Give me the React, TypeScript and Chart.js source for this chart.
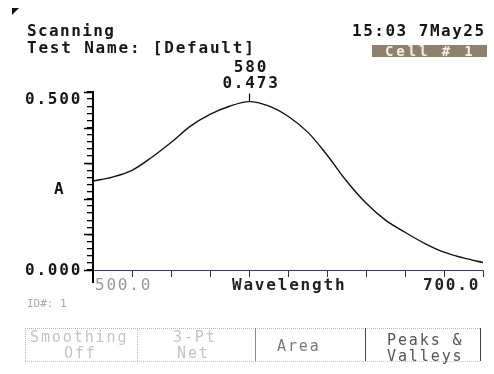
import React, { useEffect, useRef } from "react";
import { Chart, registerables } from "chart.js";

Chart.register(...registerables);

const wavelengths = [500, 510, 520, 530, 540, 550, 560, 570, 580, 590, 600, 610, 620, 630, 640, 650, 660, 670, 680, 690, 700];
const absorbance = [0.250, 0.261, 0.280, 0.316, 0.358, 0.404, 0.437, 0.460, 0.473, 0.461, 0.432, 0.388, 0.323, 0.250, 0.188, 0.140, 0.106, 0.075, 0.050, 0.034, 0.021];
const peakWavelength = 580;
const peakValue = 0.473;
const xTickLabels = ["500.0", "700.0"];
const yTickLabels = ["0.500", "0.000"];

const MONO = '"DejaVu Sans Mono", monospace';

const overlayPlugin = {
  id: "overlay",
  afterDraw(chart: any) {
    const ctx = chart.ctx;
    const x = chart.scales.x;
    const y = chart.scales.y;
    const left = chart.chartArea.left;
    ctx.save();
    // y axis extension below x axis
    ctx.strokeStyle = "#000";
    ctx.lineWidth = 2;
    ctx.beginPath();
    ctx.moveTo(left, y.getPixelForValue(0));
    ctx.lineTo(left, y.getPixelForValue(0) + 13);
    ctx.stroke();
    // major y ticks
    ctx.lineWidth = 1.5;
    for (let v = 0; v <= 0.5001; v += 0.1) {
      const py = Math.round(y.getPixelForValue(v)) + 0.5;
      ctx.beginPath();
      ctx.moveTo(left - 9, py);
      ctx.lineTo(left, py);
      ctx.stroke();
    }
    // peak marker
    const px = x.getPixelForValue(peakWavelength);
    const py = y.getPixelForValue(peakValue);
    ctx.lineWidth = 1.2;
    ctx.beginPath();
    ctx.moveTo(Math.round(px) + 0.5, py - 8);
    ctx.lineTo(Math.round(px) + 0.5, py);
    ctx.stroke();

    ctx.font = `bold 16px ${MONO}`;
    (ctx as any).letterSpacing = "1.8px";
    ctx.textBaseline = "alphabetic";
    ctx.fillStyle = "#161616";
    ctx.textAlign = "center";
    ctx.fillText(String(peakWavelength), px + 2, 72);
    ctx.fillText(peakValue.toFixed(3), px + 2, 88);

    ctx.textAlign = "left";
    ctx.fillText(yTickLabels[0], 25, y.getPixelForValue(0.5) + 12);
    ctx.fillText("A", 54, y.getPixelForValue(0.25) + 13);
    ctx.fillText(yTickLabels[1], 25, y.getPixelForValue(0) + 5);

    const by = y.getPixelForValue(0) + 20;
    ctx.font = `16px ${MONO}`;
    (ctx as any).letterSpacing = "1.8px";
    ctx.fillStyle = "#9a9a9a";
    ctx.fillText(xTickLabels[0], x.getPixelForValue(500) + 2, by);
    ctx.font = `bold 16px ${MONO}`;
    ctx.fillStyle = "#222";
    ctx.fillText("Wavelength", 232, by);
    ctx.fillText(xTickLabels[1], x.getPixelForValue(700) - 60, by);
    ctx.restore();
  },
};

export default function App() {
  const ref = useRef<HTMLCanvasElement>(null);
  useEffect(() => {
    if (!ref.current) return;
    const chart = new Chart(ref.current, {
      type: "line",
      data: {
        datasets: [
          {
            data: wavelengths.map((w, i) => ({ x: w, y: absorbance[i] })),
            borderColor: "#111",
            borderWidth: 1.4,
            pointRadius: 0,
            tension: 0.35,
            fill: false,
          },
        ],
      },
      options: {
        animation: false,
        responsive: false,
        devicePixelRatio: 1,
        layout: { padding: { top: 92, right: 11, left: 0, bottom: 0 } },
        plugins: { legend: { display: false }, tooltip: { enabled: false } },
        scales: {
          x: {
            type: "linear",
            min: 500,
            max: 700,
            ticks: { display: false, stepSize: 20 },
            grid: { drawOnChartArea: false, drawTicks: true, tickLength: 7, color: "#333", lineWidth: 1 },
            border: { display: true, color: "#3a3a66", width: 1, dash: [8, 2, 2, 2] },
            afterFit: (s: any) => { s.height = 104; },
          },
          y: {
            type: "linear",
            min: 0,
            max: 0.5,
            ticks: { display: false, stepSize: 0.02 },
            grid: { drawOnChartArea: false, drawTicks: true, tickLength: 6, color: "#000", lineWidth: 1.3 },
            border: { display: true, color: "#000", width: 2 },
            afterFit: (s: any) => { s.width = 93; },
          },
        },
      },
      plugins: [overlayPlugin],
    });
    return () => chart.destroy();
  }, []);

  const mono: React.CSSProperties = {
    position: "absolute",
    fontFamily: MONO,
    fontSize: 16,
    fontWeight: "bold",
    letterSpacing: "1.8px",
    lineHeight: "16px",
    whiteSpace: "pre",
    color: "#161616",
  };
  const btn: React.CSSProperties = { ...mono, fontWeight: "normal", fontSize: 15, letterSpacing: "1.9px", lineHeight: "15px" };

  return (
    <div style={{ position: "absolute", left: 0, top: 0, width: 494, height: 374, background: "#fff", overflow: "hidden" }}>
      <canvas ref={ref} width={494} height={374} style={{ position: "absolute", left: 0, top: 0 }} />
      <div style={{ position: "absolute", left: 12, top: 8, width: 0, height: 0, borderTop: "7px solid #111", borderRight: "7px solid transparent" }} />
      <div style={{ ...mono, left: 27, top: 23, letterSpacing: "1.4px" }}>Scanning</div>
      <div style={{ ...mono, left: 27, top: 40 }}>Test Name: [Default]</div>
      <div style={{ ...mono, left: 352, top: 23, letterSpacing: "1.5px" }}>15:03 7May25</div>
      <div style={{ position: "absolute", left: 372, top: 45, width: 115, height: 12, background: "#8e816d" }}>
        <div style={{ ...mono, left: 13, top: 0, fontSize: 14, letterSpacing: "2.9px", lineHeight: "12px", color: "#f3efe6", fontWeight: "bold" }}>Cell # 1</div>
      </div>
      <div style={{ ...mono, fontWeight: "normal", left: 27, top: 298, fontSize: 11, letterSpacing: "0px", lineHeight: "11px", color: "#a8a8a8" }}>ID#: 1</div>
      <div style={{ position: "absolute", left: 25, top: 328, width: 455, height: 32, borderTop: "1px dotted #b8b8b8", borderBottom: "1px dotted #c8c8c8" }} />
      <div style={{ position: "absolute", left: 25, top: 328, width: 0, height: 33, borderLeft: "1px dotted #b8b8b8" }} />
      <div style={{ position: "absolute", left: 137, top: 328, width: 0, height: 33, borderLeft: "1px dotted #b8b8b8" }} />
      <div style={{ position: "absolute", left: 255, top: 328, width: 0, height: 33, borderLeft: "1px solid #8a8a8a" }} />
      <div style={{ position: "absolute", left: 365, top: 328, width: 0, height: 33, borderLeft: "1px solid #444" }} />
      <div style={{ position: "absolute", left: 480, top: 328, width: 0, height: 33, borderLeft: "1px solid #444" }} />
      <div style={{ ...btn, left: 30, top: 330, color: "#c4c4c4" }}>Smoothing</div>
      <div style={{ ...btn, left: 64, top: 346, color: "#c4c4c4" }}>Off</div>
      <div style={{ ...btn, left: 173, top: 330, color: "#c4c4c4" }}>3-Pt</div>
      <div style={{ ...btn, left: 177, top: 346, color: "#c4c4c4" }}>Net</div>
      <div style={{ ...btn, left: 277, top: 339, color: "#7a7a7a" }}>Area</div>
      <div style={{ ...btn, left: 387, top: 333, color: "#555" }}>Peaks &</div>
      <div style={{ ...btn, left: 387, top: 349, color: "#555" }}>Valleys</div>
    </div>
  );
}
